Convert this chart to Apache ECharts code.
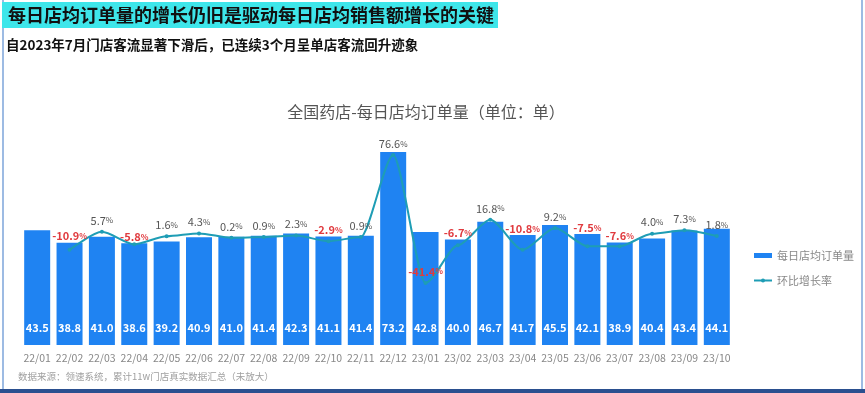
<!DOCTYPE html>
<html>
<head>
<meta charset="utf-8">
<script src="https://cdn.jsdelivr.net/npm/echarts@6/dist/echarts.min.js"></script>
<style>
html,body{margin:0;padding:0;background:#fff;}
#c{width:865px;height:393px;}
</style>
</head>
<body>
<div id="c"></div>
<script>
var categories = ['22/01','22/02','22/03','22/04','22/05','22/06','22/07','22/08','22/09','22/10','22/11','22/12','23/01','23/02','23/03','23/04','23/05','23/06','23/07','23/08','23/09','23/10'];
var orders = [43.5,38.8,41.0,38.6,39.2,40.9,41.0,41.4,42.3,41.1,41.4,73.2,42.8,40.0,46.7,41.7,45.5,42.1,38.9,40.4,43.4,44.1];
var mom = [null,-10.9,5.7,-5.8,1.6,4.3,0.2,0.9,2.3,-2.9,0.9,76.6,-41.4,-6.7,16.8,-10.8,9.2,-7.5,-7.6,4.0,7.3,1.8];

var font = '"Noto Sans CJK SC","Noto Sans",sans-serif';
var chart = echarts.init(document.getElementById('c'));
chart.setOption({
  animation: false,
  textStyle: {fontFamily: font},
  graphic: [
    {type:'rect', shape:{x:2, y:0, width:2, height:393}, style:{fill:'#9dbbe3'}},
    {type:'rect', shape:{x:861, y:0, width:2, height:393}, style:{fill:'#9dbbe3'}},
    {type:'rect', shape:{x:0, y:389, width:865, height:4}, style:{fill:'#2a4f8f'}}
  ],
  title: [
    {text:'每日店均订单量的增长仍旧是驱动每日店均销售额增长的关键', left:2, top:2,
     backgroundColor:'#3ee6ea', padding:[4,4,4,6],
     textStyle:{fontSize:18, fontWeight:'bold', color:'#111', fontFamily:font}},
    {text:'自2023年7月门店客流显著下滑后，已连续3个月呈单店客流回升迹象', left:6, top:38, padding:0,
     textStyle:{fontSize:13.5, fontWeight:'bold', color:'#111', fontFamily:font}},
    {text:'全国药店-每日店均订单量（单位：单）', left:426, textAlign:'center', top:104, padding:0,
     textStyle:{fontSize:16, fontWeight:'normal', color:'#555', fontFamily:font}},
    {text:'数据来源：领速系统，累计11w门店真实数据汇总（未放大）', left:18, top:372, padding:0,
     textStyle:{fontSize:9.5, fontWeight:'normal', color:'#a0a0a0', fontFamily:font}}
  ],
  legend: {
    orient:'vertical', left:748, top:245, itemGap:14, itemWidth:18, itemHeight:5,
    textStyle:{fontSize:11, color:'#888'},
    data:[{name:'每日店均订单量', icon:'rect'}, {name:'环比增长率'}]
  },
  grid: {left:21, right:132, top:134, bottom:48},
  xAxis: {
    type:'category', data:categories,
    axisLine:{show:false}, axisTick:{show:false},
    axisLabel:{color:'#888', fontSize:10.5, margin:8, interval:0}
  },
  yAxis: [
    {type:'value', min:0, max:80, show:false, splitLine:{show:false}},
    {type:'value', min:-98.7, max:96, show:false, splitLine:{show:false}}
  ],
  series: [
    {name:'每日店均订单量', type:'bar', data:orders, barWidth:26,
     itemStyle:{color:'#1f83f2'},
     label:{show:true, position:'insideBottom', distance:12, color:'#fff', fontWeight:'bold', fontSize:11,
            formatter:function(p){return p.value.toFixed(1);}}},
    {name:'环比增长率', type:'line', yAxisIndex:1, data:mom, smooth:0.25, smoothMonotone:'x',
     symbol:'circle', symbolSize:4, showSymbol:true,
     lineStyle:{color:'#1e9db5', width:2}, itemStyle:{color:'#1e9db5'},
     label:{show:true, position:'top', distance:4,
       formatter:function(p){
         if(p.value==null) return '';
         var s = p.value.toFixed(1);
         return p.value<0 ? '{n|'+s+'}{np|%}' : '{p|'+s+'}{pp|%}';
       },
       rich:{
         p:{fontSize:11, color:'#555'},
         pp:{fontSize:8, color:'#555'},
         n:{fontSize:11, color:'#e03a3e', fontWeight:'bold'},
         np:{fontSize:8, color:'#e03a3e', fontWeight:'bold'}
       }}}
  ]
});

// Negative labels whose point sits just below the bar top go above the bar
var lineData = mom.map(function(v, i){
  if (v == null) return v;
  var pl = chart.convertToPixel({yAxisIndex:1}, v);
  var pb = chart.convertToPixel({yAxisIndex:0}, orders[i]);
  var dy = 0;
  if (v < 0 && pl - pb < 30) dy = (pb + 5) - pl;
  return {value: v, label: {offset: [0, dy]}};
});
chart.setOption({series:[{}, {data: lineData}]});
</script>
</body>
</html>
